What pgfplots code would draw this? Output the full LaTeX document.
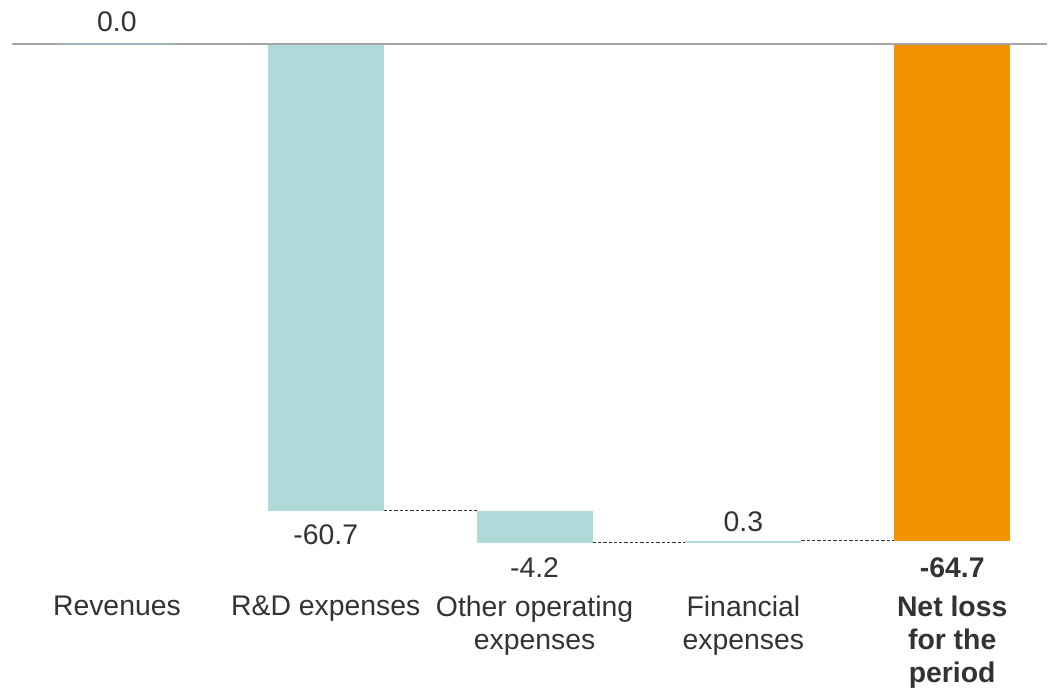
\documentclass[border=0pt]{standalone}
\usepackage{pgfplots}
\pgfplotsset{compat=1.18}
\usepackage{fontspec}
\setmainfont{Liberation Sans}
\definecolor{teal1}{HTML}{B0D9D9}
\definecolor{orange1}{HTML}{F39200}
\definecolor{txt}{HTML}{333333}
\definecolor{axgray}{HTML}{A6A6A6}
\begin{document}
\begin{tikzpicture}
\begin{axis}[
  scale only axis, width=786pt, height=513pt,
  xmin=-0.56, xmax=4.455, ymin=-83.2, ymax=5.72,
  hide axis, clip=false,
  font=\fontsize{21.3}{24.75}\selectfont\color{txt},
]
\draw[draw=none] (rel axis cs:0,0) rectangle (rel axis cs:1,1);
% bars (floating waterfall bars: start and end values)
\addplot[draw=none, fill=teal1] coordinates {(0.7225,0) (1.2775,0) (1.2775,-60.7) (0.7225,-60.7)} --cycle;
\addplot[draw=none, fill=teal1] coordinates {(1.7225,-60.7) (2.2775,-60.7) (2.2775,-64.9) (1.7225,-64.9)} --cycle;
\addplot[draw=none, fill=teal1] coordinates {(2.7225,-64.9) (3.2775,-64.9) (3.2775,-64.6) (2.7225,-64.6)} --cycle;
\addplot[draw=none, fill=orange1] coordinates {(3.7225,0) (4.2775,0) (4.2775,-64.7) (3.7225,-64.7)} --cycle;
% axis line
\draw[axgray, line width=1.2pt] (axis cs:-0.502,0) -- (axis cs:4.455,0);
\addplot[teal1!60!gray, line width=1.2pt] coordinates {(-0.2775,0) (0.2775,0)};
% connectors
\addplot[black!80, dash pattern=on 2.5pt off 1.5pt, line width=0.5pt] coordinates {(1.2775,-60.7) (1.7225,-60.7)};
\addplot[black!80, dash pattern=on 2.5pt off 1.5pt, line width=0.5pt] coordinates {(2.2775,-64.9) (2.7225,-64.9)};
\addplot[black!80, dash pattern=on 2.5pt off 1.5pt, line width=0.5pt] coordinates {(3.2775,-64.6) (3.7225,-64.6)};
% value labels
\node[anchor=center] at (axis cs:0,2.86) {0.0};
\node[anchor=center] at (axis cs:1,-63.85) {-60.7};
\node[anchor=center] at (axis cs:2,-68.1) {-4.2};
\node[anchor=center] at (axis cs:3,-62.2) {0.3};
\node[anchor=center] at (axis cs:4,-68.1) {\bfseries -64.7};
% category labels
\node[anchor=north, inner sep=0pt, align=center] at (axis cs:0,-71.8) {Revenues};
\node[anchor=north, inner sep=0pt, align=center] at (axis cs:1,-71.8) {R\&D expenses};
\node[anchor=north, inner sep=0pt, align=center] at (axis cs:2,-71.8) {Other operating\\expenses};
\node[anchor=north, inner sep=0pt, align=center] at (axis cs:3,-71.8) {Financial\\expenses};
\node[anchor=north, inner sep=0pt, align=center, font=\fontsize{21.3}{24.75}\selectfont\bfseries\color{txt}] at (axis cs:4,-71.8) {Net loss\\for the\\period};
\end{axis}
\end{tikzpicture}
\end{document}
